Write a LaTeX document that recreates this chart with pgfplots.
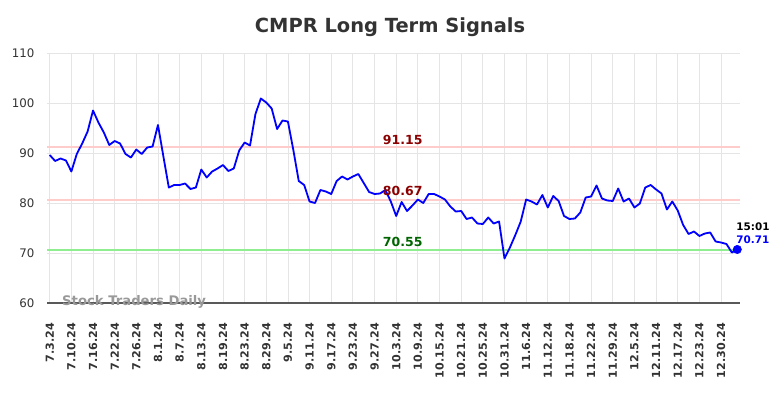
\documentclass[border=0pt]{standalone}
\usepackage{pgfplots}
\pgfplotsset{compat=1.18}
\usepackage{fontspec}
\setmainfont{DejaVu Sans}
\definecolor{sigred}{RGB}{255,204,204}
\definecolor{siggreen}{RGB}{144,238,144}
\definecolor{labred}{RGB}{139,0,0}
\definecolor{labgreen}{RGB}{0,100,0}
\definecolor{txt}{RGB}{51,51,51}
\begin{document}
\begin{tikzpicture}
\begin{axis}[
  at={(0,0)}, anchor=south west, scale only axis,
  width=498.96pt, height=180pt,
  xmin=-0.5, xmax=127.5, ymin=60, ymax=110,
  clip=false,
  axis line style={draw=none},
  major tick length=0pt,
  grid=major,
  major grid style={color=black!10, line width=0.6pt},
  xtick={0,4,...,124},
  xticklabels={7.3.24,7.10.24,7.16.24,7.22.24,7.26.24,8.1.24,8.7.24,8.13.24,8.19.24,8.23.24,8.29.24,9.5.24,9.11.24,9.17.24,9.23.24,9.27.24,10.3.24,10.9.24,10.15.24,10.21.24,10.25.24,10.31.24,11.6.24,11.12.24,11.18.24,11.22.24,11.29.24,12.5.24,12.11.24,12.17.24,12.23.24,12.30.24},
  ytick={60,70,...,110},
  /pgf/number format/assume math mode=true,
  xticklabel shift=11pt,
  xticklabel style={rotate=90, anchor=east, font=\bfseries\fontsize{8}{9}\selectfont, text=txt},
  yticklabel style={font=\fontsize{8.5}{10}\selectfont, text=txt, xshift=-5.5pt},
]
\draw[color=black!65, line width=0.8pt] (rel axis cs:0,0) -- (rel axis cs:1,0);
\addplot[color=sigred, line width=1.3pt] coordinates {(-0.5,91.15) (127.5,91.15)};
\addplot[color=sigred, line width=1.3pt] coordinates {(-0.5,80.67) (127.5,80.67)};
\addplot[color=siggreen, line width=1.3pt] coordinates {(-0.5,70.55) (127.5,70.55)};
\addplot[color=blue, line width=1.3pt, line join=round] table {
0 89.6
1 88.4
2 88.9
3 88.5
4 86.3
5 89.8
6 91.9
7 94.3
8 98.5
9 96.1
10 94.1
11 91.6
12 92.4
13 91.9
14 89.8
15 89.1
16 90.7
17 89.8
18 91.1
19 91.3
20 95.6
21 89.3
22 83.1
23 83.6
24 83.6
25 83.9
26 82.8
27 83.1
28 86.7
29 85.1
30 86.3
31 86.9
32 87.6
33 86.4
34 86.9
35 90.5
36 92.1
37 91.5
38 97.8
39 100.9
40 100.1
41 98.9
42 94.8
43 96.5
44 96.3
45 90.6
46 84.4
47 83.6
48 80.3
49 80.0
50 82.6
51 82.3
52 81.8
53 84.4
54 85.3
55 84.7
56 85.3
57 85.8
58 84.0
59 82.2
60 81.8
61 81.9
62 82.6
63 80.3
64 77.4
65 80.2
66 78.4
67 79.5
68 80.7
69 80.0
70 81.8
71 81.8
72 81.3
73 80.7
74 79.3
75 78.3
76 78.4
77 76.8
78 77.1
79 75.9
80 75.8
81 77.1
82 75.9
83 76.3
84 68.9
85 71.1
86 73.6
87 76.3
88 80.7
89 80.3
90 79.7
91 81.6
92 79.1
93 81.4
94 80.4
95 77.4
96 76.8
97 76.9
98 78.1
99 81.1
100 81.3
101 83.5
102 80.9
103 80.5
104 80.4
105 82.9
106 80.3
107 80.9
108 79.1
109 79.9
110 83.1
111 83.6
112 82.7
113 81.9
114 78.7
115 80.3
116 78.5
117 75.6
118 73.8
119 74.3
120 73.4
121 73.9
122 74.1
123 72.3
124 72.1
125 71.8
126 70.1
127 70.71
};
\addplot[only marks, mark=*, mark size=3pt, color=blue] coordinates {(127,70.71)};
\node[font=\bfseries\fontsize{9}{10}\selectfont, text=labred] at (axis cs:65.2,92.6) {91.15};
\node[font=\bfseries\fontsize{9}{10}\selectfont, text=labred] at (axis cs:65.2,82.4) {80.67};
\node[font=\bfseries\fontsize{9}{10}\selectfont, text=labgreen] at (axis cs:65.2,72.2) {70.55};
\node[font=\bfseries\fontsize{7.5}{9}\selectfont, text=black, anchor=west, inner sep=0pt] at (axis cs:126.8,75.2) {15:01};
\node[font=\bfseries\fontsize{7.5}{9}\selectfont, text=blue, anchor=west, inner sep=0pt] at (axis cs:126.8,72.6) {70.71};
\node[font=\bfseries\fontsize{9.5}{11}\selectfont, text=black!40] at (axis cs:15.6,60.2) {Stock Traders Daily};
\end{axis}
\node[font=\bfseries\fontsize{14}{16}\selectfont, text=txt] at (247pt,198.7pt) {CMPR Long Term Signals};
\pgfresetboundingbox
\path (-33.84pt,-68.4pt) rectangle (530.64pt,218.16pt);
\end{tikzpicture}
\end{document}
